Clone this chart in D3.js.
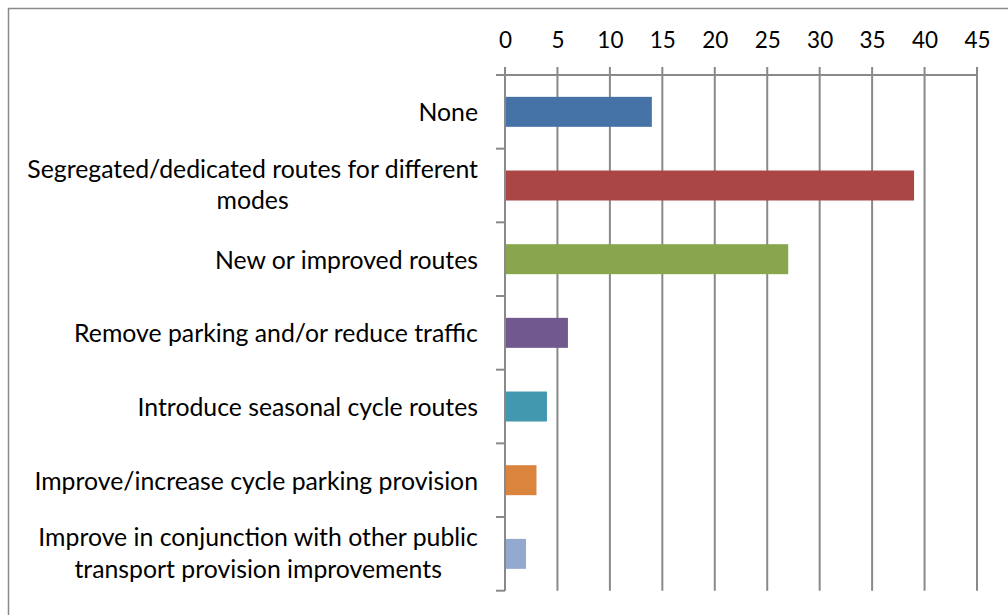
<!DOCTYPE html>
<html>
<head>
<meta charset="utf-8">
<script src="https://cdn.jsdelivr.net/npm/d3@7"></script>
<style>
  body { margin: 0; background: #fff; }
  svg text { font-family: Lato, 'Open Sans', sans-serif; fill: #000; }
</style>
</head>
<body>
<div id="chart"></div>
<script>
var categories = [
    'None',
    'Segregated/dedicated routes for different modes',
    'New or improved routes',
    'Remove parking and/or reduce traffic',
    'Introduce seasonal cycle routes',
    'Improve/increase cycle parking provision',
    'Improve in conjunction with other public transport provision improvements'
]
var labelLines = [
    ['None'],
    ['Segregated/dedicated routes for different', 'modes'],
    ['New or improved routes'],
    ['Remove parking and/or reduce traffic'],
    ['Introduce seasonal cycle routes'],
    ['Improve/increase cycle parking provision'],
    ['Improve in conjunction with other public', 'transport provision improvements']
]
var values = [14, 39, 27, 6, 4, 3, 2]
var colors = ['#4572A7', '#AA4643', '#89A54E', '#71588F', '#4198AF', '#DB843D', '#93A9CF']
var tickValues = [0, 5, 10, 15, 20, 25, 30, 35, 40, 45]

var width = 1008,
    height = 615,
    plot = {left: 505, right: 977, top: 75, bottom: 590.7},
    gridColor = '#898989'

var svg = d3.select('#chart').append('svg')
    .attr('width', width)
    .attr('height', height)

// chart border
svg.append('rect')
    .attr('x', 8.5).attr('y', 8.5)
    .attr('width', width + 20).attr('height', height + 20)
    .attr('fill', '#fff')
    .attr('stroke', '#8a8a8a')
    .attr('stroke-width', 1.5)

var x = d3.scaleLinear()
    .domain([0, 45])
    .range([plot.left, plot.right])

var y = d3.scaleBand()
    .domain(categories)
    .range([plot.top, plot.bottom])
    .paddingInner(0.593)
    .paddingOuter(0.2965)

// vertical gridlines
svg.append('g')
    .selectAll('line')
    .data(tickValues)
    .enter().append('line')
    .attr('x1', d => x(d)).attr('x2', d => x(d))
    .attr('y1', plot.top - 8).attr('y2', plot.bottom)
    .attr('stroke', gridColor)
    .attr('stroke-width', 2)

// top value axis
var xAxis = svg.append('g')
    .attr('transform', 'translate(0,' + plot.top + ')')
    .call(d3.axisTop(x).tickValues(tickValues).tickSize(0).tickPadding(27))
xAxis.select('.domain').remove()
xAxis.selectAll('text')
    .style('font-size', '22.5px')
    .attr('fill', '#000')

svg.append('line')
    .attr('x1', plot.left - 9).attr('x2', plot.right)
    .attr('y1', plot.top).attr('y2', plot.top)
    .attr('stroke', gridColor)
    .attr('stroke-width', 2)

// category axis ticks
var step = (plot.bottom - plot.top) / categories.length
svg.append('g')
    .selectAll('line')
    .data(d3.range(categories.length + 1))
    .enter().append('line')
    .attr('x1', plot.left - 9).attr('x2', plot.left)
    .attr('y1', i => plot.top + i * step).attr('y2', i => plot.top + i * step)
    .attr('stroke', gridColor)
    .attr('stroke-width', 2)

// bars
svg.append('g')
    .selectAll('rect')
    .data(values)
    .enter().append('rect')
    .attr('x', x(0) + 1)
    .attr('y', (d, i) => y(categories[i]))
    .attr('width', d => x(d) - x(0) - 1)
    .attr('height', y.bandwidth())
    .attr('fill', (d, i) => colors[i])

// category labels
var labels = svg.append('g')
    .selectAll('text')
    .data(labelLines)
    .enter().append('text')
    .attr('text-anchor', 'middle')
    .style('font-size', '24.8px')
    .attr('transform', (d, i) => 'translate(0,' + (y(categories[i]) + y.bandwidth() / 2) + ')')

labels.each(function(lines) {
    var t = d3.select(this)
    var lh = 31.5
    var y0 = -(lines.length - 1) * lh / 2 + (lines.length > 1 ? 8 : 9.5)
    lines.forEach(function(l, j) {
        t.append('tspan').attr('x', 0).attr('y', y0 + j * lh).text(l)
    })
    // right align block, centred lines inside it
    var w = this.getBBox().width
    t.attr('transform', t.attr('transform').replace('translate(0', 'translate(' + (478 - w / 2)))
})
</script>
</body>
</html>
